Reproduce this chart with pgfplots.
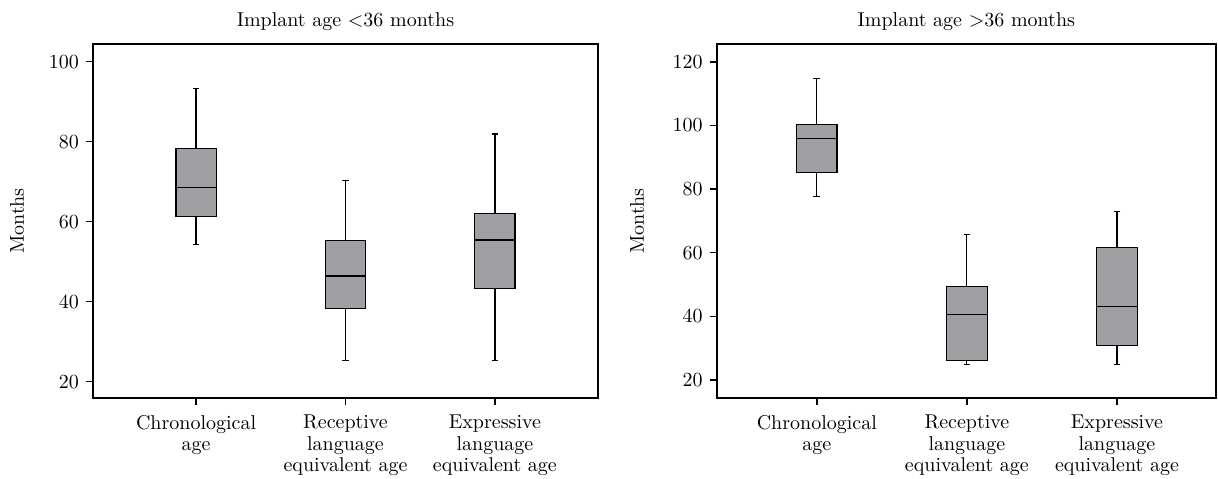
\documentclass[border=0pt]{standalone}
\usepackage{pgfplots}
\pgfplotsset{compat=1.18}
\usepgfplotslibrary{statistics}
\definecolor{boxgray}{RGB}{158,159,163}
\begin{document}
\begin{tikzpicture}
\useasboundingbox (0,-40pt) rectangle (609pt,199pt);
\pgfplotsset{
  panel/.style={
    scale only axis, height=177pt,
    axis line style={line width=1pt},
    tick align=outside, tick pos=left, major tick length=3.5pt,
    every tick/.style={black, line width=0.7pt},
    xtick={1,2,3},
    xticklabels={{Chronological\\age},{Receptive\\language\\equivalent age},{Expressive\\language\\equivalent age}},
    xticklabel style={align=center, font=\fontsize{10}{10.8}\selectfont, yshift=-1.5pt},
    ylabel={Months},
    every axis title shift=0pt,
    title style={at={(axis description cs:0.5,1)}, anchor=center, yshift=11pt},
    boxplot/box extend=0.27,
    boxplot/whisker extend=0.045,
    boxplot/draw direction=y,
  },
  bx/.style={draw=black, fill=boxgray, line width=0.6pt},
}
% Left panel
\begin{axis}[panel, at={(46.5pt,0pt)}, anchor=south west, width=252.5pt,
  xmin=0.31, xmax=3.69, ymin=15.9, ymax=104.4,
  ytick={20,40,60,80,100},
  ylabel style={at={(axis description cs:-0.1505,0.5)}, anchor=center},
  title={Implant age \textless36 months}]
\addplot[bx, boxplot prepared={draw position=1, lower whisker=54.2, lower quartile=61.2, median=68.5, upper quartile=78.3, upper whisker=93.2}] coordinates {};
\addplot[bx, boxplot prepared={draw position=2, lower whisker=25.2, lower quartile=38.3, median=46.4, upper quartile=55.3, upper whisker=70.2}] coordinates {};
\addplot[bx, boxplot prepared={draw position=3, lower whisker=25.2, lower quartile=43.2, median=55.4, upper quartile=62.1, upper whisker=81.9}] coordinates {};
\end{axis}
% Right panel
\begin{axis}[panel, at={(358.35pt,0pt)}, anchor=south west, width=249.65pt,
  xmin=0.333, xmax=3.66, ymin=14.35, ymax=125.6,
  ytick={20,40,60,80,100,120},
  ylabel style={at={(axis description cs:-0.1596,0.5)}, anchor=center},
  title={Implant age \textgreater36 months}]
\addplot[bx, boxplot prepared={draw position=1, lower whisker=77.7, lower quartile=85.3, median=95.8, upper quartile=100.2, upper whisker=114.7}] coordinates {};
\addplot[bx, boxplot prepared={draw position=2, lower whisker=25.0, lower quartile=26.1, median=40.7, upper quartile=49.3, upper whisker=65.7}] coordinates {};
\addplot[bx, boxplot prepared={draw position=3, lower whisker=25.0, lower quartile=30.9, median=43.0, upper quartile=61.7, upper whisker=72.9}] coordinates {};
\end{axis}
\end{tikzpicture}
\end{document}
